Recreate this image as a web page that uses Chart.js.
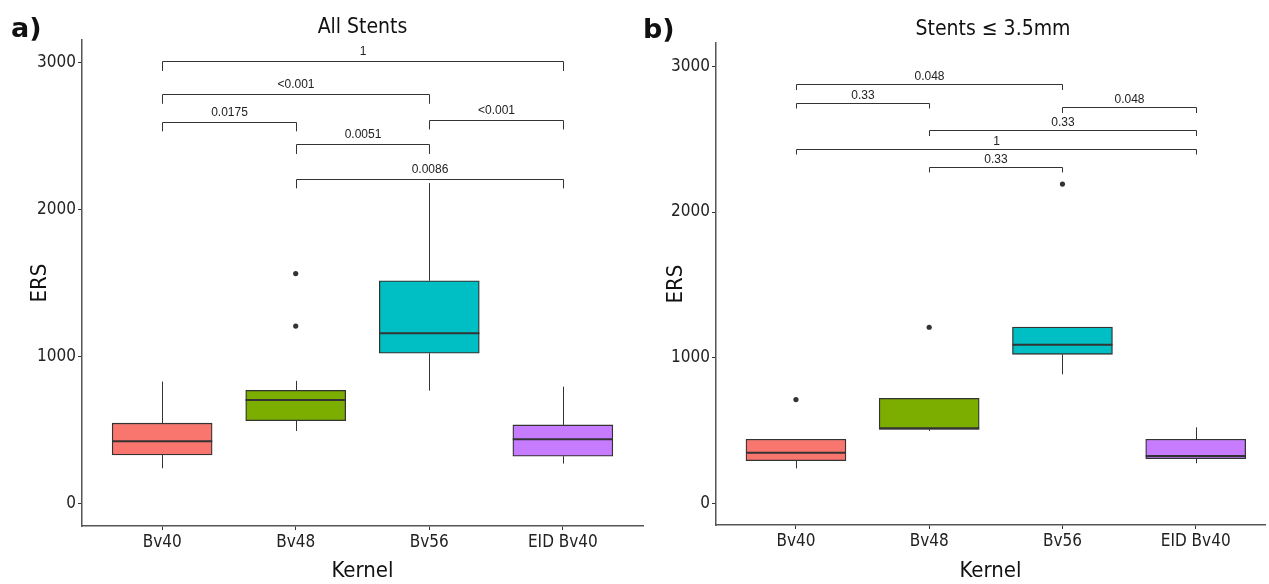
<!DOCTYPE html>
<html><head><meta charset="utf-8">
<script src="https://cdn.jsdelivr.net/npm/chart.js@4.4.0/dist/chart.umd.min.js"></script>
<style>
html,body{margin:0;padding:0;background:#fff;width:1269px;height:584px;overflow:hidden}
#wa{position:absolute;left:0;top:0;width:650px;height:584px}
#wb{position:absolute;left:638px;top:0;width:631px;height:584px}
</style></head><body>
<div id="wa"><canvas id="ca"></canvas></div>
<div id="wb"><canvas id="cb"></canvas></div>
<script>
const categories = ['Bv40','Bv48','Bv56','EID Bv40'];
const boxColors = ['#F8766D','#7CAE00','#00BFC4','#C77CFF'];
const yTicks = [0,1000,2000,3000];

// Panel a) All Stents
const aLow    = [238, 492, 767, 270];
const aQ1     = [329, 562, 1021, 320];
const aMedian = [422, 703, 1157, 436];
const aQ3     = [545, 769, 1515, 533];
const aHigh   = [828, 833, 2180, 794];
const aOutliers = [[], [1206, 1564], [], []];
const aBracketFrom  = [1, 1, 1, 3, 2, 2];
const aBracketTo    = [4, 3, 2, 4, 3, 4];
const aBracketY     = [3009, 2786, 2598, 2611, 2444, 2210];
const aBracketLabel = ['1', '<0.001', '0.0175', '<0.001', '0.0051', '0.0086'];

// Panel b) Stents <= 3.5mm
const bLow    = [240, 497, 886, 275];
const bQ1     = [293, 508, 1023, 306];
const bMedian = [348, 515, 1089, 325];
const bQ3     = [440, 721, 1211, 440];
const bHigh   = [440, 721, 1211, 522];
const bOutliers = [[712], [1209], [2192], []];
const bBracketFrom  = [1, 1, 3, 2, 1, 2];
const bBracketTo    = [3, 2, 4, 4, 4, 3];
const bBracketY     = [2878, 2751, 2720, 2562, 2435, 2312];
const bBracketLabel = ['0.048', '0.33', '0.048', '0.33', '1', '0.33'];

const FONT = "'DejaVu Sans Condensed','DejaVu Sans',sans-serif";

const boxPlugin = {
  id: 'boxParts',
  beforeDatasetsDraw(chart) {
    const o = chart.options.plugins.boxParts; const x = chart.scales.x, y = chart.scales.y;
    const ctx = chart.ctx; ctx.save();
    ctx.strokeStyle = '#333'; ctx.lineWidth = 1;
    o.low.forEach((v, i) => {
      const px = Math.round(x.getPixelForValue(i + 1)) + 0.5;
      ctx.beginPath();
      ctx.moveTo(px, y.getPixelForValue(o.low[i])); ctx.lineTo(px, y.getPixelForValue(o.q1[i]));
      ctx.moveTo(px, y.getPixelForValue(o.q3[i])); ctx.lineTo(px, y.getPixelForValue(o.high[i]));
      ctx.stroke();
    });
    ctx.restore();
  },
  afterDatasetsDraw(chart) {
    const o = chart.options.plugins.boxParts; const x = chart.scales.x, y = chart.scales.y;
    const ctx = chart.ctx; ctx.save();
    ctx.strokeStyle = '#333'; ctx.lineWidth = 2;
    o.median.forEach((v, i) => {
      const py = y.getPixelForValue(v);
      ctx.beginPath();
      ctx.moveTo(x.getPixelForValue(i + 1 - 0.375), py);
      ctx.lineTo(x.getPixelForValue(i + 1 + 0.375), py);
      ctx.stroke();
    });
    ctx.restore();
  },
  afterDraw(chart) {
    const o = chart.options.plugins.boxParts; const x = chart.scales.x, y = chart.scales.y;
    const ctx = chart.ctx; const ca = chart.chartArea; ctx.save();
    ctx.strokeStyle = '#333'; ctx.lineWidth = 1; ctx.fillStyle = '#222';
    ctx.font = "12px 'Liberation Sans', Arial, sans-serif";
    ctx.textAlign = 'center'; ctx.textBaseline = 'middle';
    o.bFrom.forEach((f, i) => {
      const x1 = Math.round(x.getPixelForValue(f)) + 0.5, x2 = Math.round(x.getPixelForValue(o.bTo[i])) + 0.5;
      const py = Math.round(y.getPixelForValue(o.bY[i])) + 0.5;
      const pd = y.getPixelForValue(o.bY[i] - o.drop);
      ctx.beginPath();
      ctx.moveTo(x1, pd); ctx.lineTo(x1, py); ctx.lineTo(x2, py); ctx.lineTo(x2, pd);
      ctx.stroke();
      ctx.fillText(o.bLabel[i], (x1 + x2) / 2, py - o.labelGap);
    });
    ctx.fillStyle = '#111';
    ctx.font = "21px " + FONT;
    ctx.fillText(o.title, o.titleX !== undefined ? o.titleX : (ca.left + ca.right) / 2, o.titleY);
    ctx.font = "bold 27px 'DejaVu Sans',sans-serif";
    ctx.textAlign = 'left';
    ctx.fillText(o.tag, o.tagX, o.tagY);
    ctx.restore();
  }
};

function makeChart(id, d) {
  const outPts = [];
  d.outliers.forEach((arr, i) => arr.forEach(v => outPts.push({x: i + 1, y: v})));
  return new Chart(document.getElementById(id), {
    type: 'bar',
    data: {
      datasets: [{
        type: 'bar',
        data: categories.map((c, i) => ({x: i + 1, y: [d.q1[i], d.q3[i]]})),
        backgroundColor: boxColors, borderColor: '#333', borderWidth: 1.3,
        borderSkipped: false, barThickness: d.barW
      }, {
        type: 'scatter',
        data: outPts, pointRadius: 2.6, pointBackgroundColor: '#333', pointBorderWidth: 0
      }]
    },
    options: {
      responsive: true, maintainAspectRatio: false, animation: false,
      layout: {padding: {left: d.padL, right: d.padR, top: d.padT, bottom: 0}},
      plugins: {
        legend: {display: false}, tooltip: {enabled: false},
        boxParts: {low: d.low, q1: d.q1, q3: d.q3, high: d.high, median: d.median,
          bFrom: d.bFrom, bTo: d.bTo, bY: d.bY, bLabel: d.bLabel, drop: d.drop, labelGap: d.labelGap,
          title: d.title, titleY: d.titleY, titleX: d.titleX, tag: d.tag, tagX: d.tagX, tagY: d.tagY}
      },
      scales: {
        x: {
          type: 'linear', min: 0.4, max: d.xMax, offset: false,
          afterBuildTicks: ax => { ax.ticks = categories.map((c, i) => ({value: i + 1})); },
          afterFit: ax => { ax.height = 584 - d.bottom; },
          ticks: {callback: v => categories[v - 1], color: '#222', font: {family: FONT, size: 17}, padding: 2, maxRotation: 0, autoSkip: false},
          grid: {display: true, offset: false, drawOnChartArea: false, drawTicks: true, tickLength: 4, color: '#333'},
          border: {display: true, color: '#555', width: 1.5},
          title: {display: true, text: 'Kernel', color: '#111', font: {family: FONT, size: 22}, padding: {top: 0, bottom: 0}}
        },
        y: {
          min: d.yMin, max: d.yMax,
          afterBuildTicks: ax => { ax.ticks = yTicks.map(v => ({value: v})); },
          afterFit: ax => { ax.width = d.yW; },
          ticks: {callback: v => String(v), color: '#222', font: {family: FONT, size: 17}, padding: 2},
          grid: {display: true, drawOnChartArea: false, drawTicks: true, tickLength: 4, color: '#333'},
          border: {display: true, color: '#555', width: 1.5},
          title: {display: true, text: 'ERS', color: '#111', font: {family: FONT, size: 22}, padding: {top: 0, bottom: 0}}
        }
      }
    },
    plugins: [boxPlugin]
  });
}

makeChart('ca', {
  low: aLow, q1: aQ1, median: aMedian, q3: aQ3, high: aHigh, outliers: aOutliers,
  bFrom: aBracketFrom, bTo: aBracketTo, bY: aBracketY, bLabel: aBracketLabel, drop: 66, labelGap: 10,
  title: 'All Stents', titleY: 28, tag: 'a)', tagX: 11, tagY: 30,
  padL: 27, padR: 7, padT: 40, bottom: 526, yW: 55, xMax: 4.6, yMin: -155, yMax: 3154, barW: 100
});
makeChart('cb', {
  low: bLow, q1: bQ1, median: bMedian, q3: bQ3, high: bHigh, outliers: bOutliers,
  bFrom: bBracketFrom, bTo: bBracketTo, bY: bBracketY, bLabel: bBracketLabel, drop: 40, labelGap: 8,
  title: 'Stents \u2264 3.5mm', titleY: 30, titleX: 355, tag: 'b)', tagX: 5, tagY: 31,
  padL: 25, padR: -5, padT: 43, bottom: 525, yW: 53, xMax: 4.52, yMin: -149, yMax: 3161, barW: 100
});
</script>
</body></html>
